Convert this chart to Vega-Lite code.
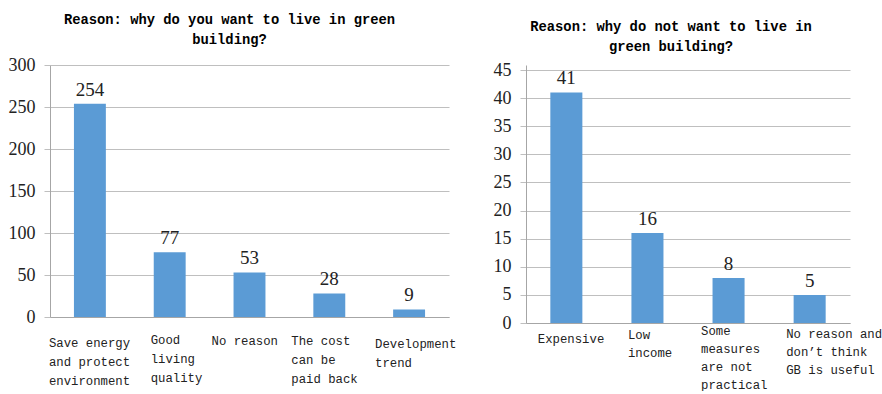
{
  "$schema": "https://vega.github.io/schema/vega-lite/v6.json",
  "background": "white",
  "padding": {"left": 8, "top": 13, "right": 0, "bottom": 0},
  "bounds": "flush",
  "spacing": 77,
  "config": {
    "view": {"stroke": null},
    "axis": {
      "gridColor": "#BFBFBF",
      "gridWidth": 1,
      "domainColor": "#A6A6A6",
      "domainWidth": 1,
      "tickColor": "#BFBFBF",
      "labelColor": "#222222"
    }
  },
  "datasets": {
    "want": [
      {"reason": "Save energy|and protect|environment", "count": 254},
      {"reason": "Good|living|quality", "count": 77},
      {"reason": "No reason", "count": 53},
      {"reason": "The cost|can be|paid back", "count": 28},
      {"reason": "Development|trend", "count": 9}
    ],
    "notwant": [
      {"reason": "Expensive", "count": 41},
      {"reason": "Low|income", "count": 16},
      {"reason": "Some|measures|are not|practical", "count": 8},
      {"reason": "No reason and|don’t think|GB is useful", "count": 5}
    ]
  },
  "hconcat": [
    {
      "data": {"name": "want"},
      "width": 399,
      "height": 252,
      "title": {
        "text": ["Reason: why do you want to live in green", "building?"],
        "font": "Liberation Mono",
        "fontSize": 13.8,
        "fontWeight": "bold",
        "lineHeight": 20,
        "color": "#000000",
        "anchor": "middle",
        "dx": -20,
        "offset": 9
      },
      "encoding": {
        "x": {
          "field": "reason",
          "type": "nominal",
          "sort": null,
          "scale": {"paddingInner": 0.6, "paddingOuter": 0.3},
          "axis": {
            "title": null,
            "ticks": false,
            "labelAngle": 0,
            "labelExpr": "split(datum.value, '|')",
            "labelFont": "Liberation Mono",
            "labelFontSize": 12.3,
            "labelLineHeight": 19,
            "labelAlign": "left",
            "labelBaseline": "top",
            "labelPadding": {
              "condition": [
                {"test": "datum.value == 'Save energy|and protect|environment'", "value": 19},
                {"test": "datum.value == 'Good|living|quality'", "value": 16},
                {"test": "datum.value == 'Development|trend'", "value": 20}
              ],
              "value": 17
            },
            "labelOverlap": false,
            "labelBound": false,
            "labelFlush": false,
            "labelLimit": 0,
            "labelOffset": {
              "condition": [
                {"test": "datum.value == 'Save energy|and protect|environment'", "value": -41},
                {"test": "datum.value == 'Good|living|quality'", "value": -19},
                {"test": "datum.value == 'Development|trend'", "value": -34}
              ],
              "value": -38
            }
          }
        },
        "y": {
          "field": "count",
          "type": "quantitative",
          "scale": {"domain": [0, 300], "nice": false},
          "axis": {
            "title": null,
            "values": [0, 50, 100, 150, 200, 250, 300],
            "tickSize": 6,
            "labelFont": "Liberation Serif",
            "labelFontSize": 18,
            "labelPadding": 9
          }
        }
      },
      "layer": [
        {"mark": {"type": "bar", "color": "#5B9BD5"}},
        {
          "mark": {"type": "text", "font": "Liberation Serif", "fontSize": 19, "color": "#222222", "baseline": "alphabetic", "dy": -8},
          "encoding": {"text": {"field": "count", "type": "quantitative"}}
        }
      ]
    },
    {
      "data": {"name": "notwant"},
      "width": 324,
      "height": 258,
      "title": {
        "text": ["Reason:  why do not want to live in", "green building?"],
        "font": "Liberation Mono",
        "fontSize": 13.8,
        "fontWeight": "bold",
        "lineHeight": 20,
        "color": "#000000",
        "anchor": "middle",
        "dx": -17,
        "offset": 7
      },
      "encoding": {
        "x": {
          "field": "reason",
          "type": "nominal",
          "sort": null,
          "scale": {"paddingInner": 0.605, "paddingOuter": 0.3},
          "axis": {
            "title": null,
            "ticks": false,
            "labelAngle": 0,
            "labelExpr": "split(datum.value, '|')",
            "labelFont": "Liberation Mono",
            "labelFontSize": 12.3,
            "labelLineHeight": 18,
            "labelAlign": "left",
            "labelBaseline": "top",
            "labelPadding": {
              "condition": [
                {"test": "datum.value == 'Expensive'", "value": 9},
                {"test": "datum.value == 'Low|income'", "value": 5},
                {"test": "datum.value == 'Some|measures|are not|practical'", "value": 1}
              ],
              "value": 4
            },
            "labelOverlap": false,
            "labelBound": false,
            "labelFlush": false,
            "labelLimit": 0,
            "labelOffset": {
              "condition": [
                {"test": "datum.value == 'Expensive'", "value": -28.5},
                {"test": "datum.value == 'Low|income'", "value": -19.5},
                {"test": "datum.value == 'Some|measures|are not|practical'", "value": -27.5}
              ],
              "value": -23.5
            }
          }
        },
        "y": {
          "field": "count",
          "type": "quantitative",
          "scale": {"domain": [0, 45.89], "nice": false},
          "axis": {
            "title": null,
            "values": [0, 5, 10, 15, 20, 25, 30, 35, 40, 45],
            "tickSize": 6,
            "labelFont": "Liberation Serif",
            "labelFontSize": 18,
            "labelPadding": 9
          }
        }
      },
      "layer": [
        {"mark": {"type": "bar", "color": "#5B9BD5"}},
        {
          "mark": {"type": "text", "font": "Liberation Serif", "fontSize": 19, "color": "#222222", "baseline": "alphabetic", "dy": -8},
          "encoding": {"text": {"field": "count", "type": "quantitative"}}
        }
      ]
    }
  ]
}
